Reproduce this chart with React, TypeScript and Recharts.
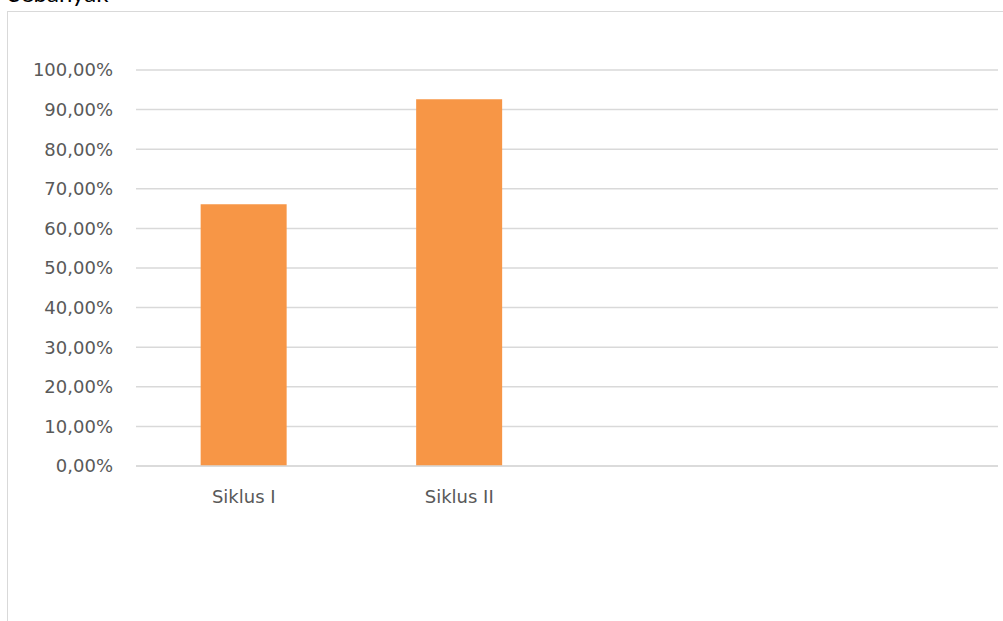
import { BarChart, Bar, XAxis, YAxis, CartesianGrid } from 'recharts';

const categories = ['Siklus I', 'Siklus II', ' ', '  '];
const values = [0.661, 0.926, null, null];
const yTicks = [0, 0.1, 0.2, 0.3, 0.4, 0.5, 0.6, 0.7, 0.8, 0.9, 1];

const data = categories.map((name, i) => ({ name, value: values[i] }));

const pct = (v: number) => (v * 100).toFixed(2).replace('.', ',') + '%';

const font = '"DejaVu Sans", sans-serif';

export default function App() {
  return (
    <div style={{ position: 'absolute', left: 0, top: 0, width: 1003, height: 621, background: '#fff', overflow: 'hidden' }}>
      <svg width={1003} height={20} style={{ position: 'absolute', left: 0, top: 0 }}>
        <text x={8} y={2} fontFamily='Lato, sans-serif' fontSize={24} fill="#000">Sebanyak</text>
      </svg>
      <div style={{ position: 'absolute', left: 7, top: 11, width: 1020, height: 640, border: '1px solid #D9D9D9' }} />
      <div style={{ position: 'absolute', left: 0, top: 0 }}>
        <BarChart
          width={1003}
          height={621}
          data={data}
          margin={{ top: 70, right: 5, bottom: 125, left: 0 }}
          barCategoryGap="30%"
        >
          <CartesianGrid vertical={false} stroke="#D9D9D9" strokeWidth={1.5} />
          <XAxis
            dataKey="name"
            height={30}
            axisLine={{ stroke: '#D9D9D9', strokeWidth: 1.5 }}
            tickLine={false}
            tickSize={0}
            tickMargin={24}
            tick={{ fill: '#595959', fontSize: 18, fontFamily: font }}
            interval={0}
          />
          <YAxis
            width={136}
            domain={[0, 1]}
            ticks={yTicks}
            tickFormatter={pct}
            axisLine={false}
            tickLine={false}
            tickSize={0}
            tickMargin={23}
            tick={{ fill: '#595959', fontSize: 18, fontFamily: font }}
          />
          <Bar dataKey="value" fill="#F79646" isAnimationActive={false} />
        </BarChart>
      </div>
    </div>
  );
}
